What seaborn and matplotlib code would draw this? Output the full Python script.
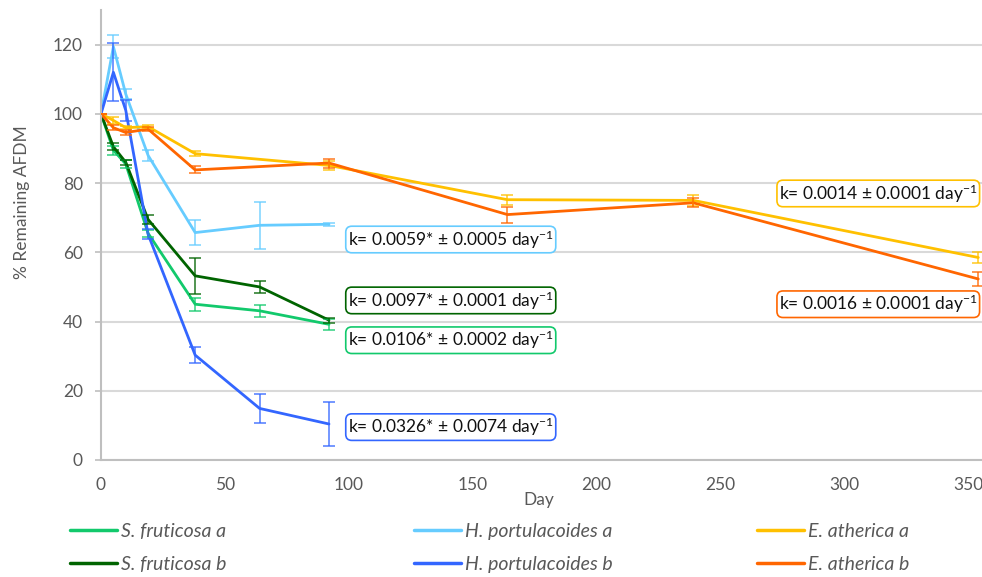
import numpy as np
import pandas as pd
import seaborn as sns
import matplotlib.pyplot as plt
from matplotlib.lines import Line2D

sns.set_theme(style="white")
plt.rcParams['font.family'] = ['Lato', 'DejaVu Sans']
plt.rcParams['mathtext.fontset'] = 'custom'
plt.rcParams['mathtext.rm'] = 'Lato'
plt.rcParams['mathtext.it'] = 'Lato:italic'

# Sampling days
days_short = [0, 5, 10, 19, 38, 64, 92]
days_long = [0, 5, 10, 19, 38, 92, 164, 239, 354]

# % remaining AFDM (mean) and standard error
sf_a = [100, 89.5, 85.5, 65.5, 45.0, 43.1, 39.2]
sf_a_err = [0, 1.3, 1.2, 1.0, 1.9, 1.7, 1.5]
sf_b = [100, 90.5, 86.0, 69.5, 53.2, 50.0, 40.4]
sf_b_err = [0, 1.0, 0.8, 1.4, 5.1, 1.8, 0.7]
hp_a = [100, 119.4, 105.7, 88.0, 65.7, 67.8, 68.1]
hp_a_err = [0, 3.3, 1.5, 1.5, 3.5, 6.7, 0.5]
hp_b = [100, 112.0, 101.0, 65.2, 30.3, 14.9, 10.4]
hp_b_err = [0, 8.4, 3.0, 1.5, 2.4, 4.1, 6.3]
ea_a = [100, 98.1, 96.0, 96.3, 88.5, 85.1, 75.2, 75.0, 58.5]
ea_a_err = [0, 1.0, 0.5, 0.5, 0.8, 1.2, 1.4, 1.5, 1.5]
ea_b = [100, 96.0, 94.6, 95.6, 83.8, 85.8, 70.9, 74.3, 52.3]
ea_b_err = [0, 0.8, 0.6, 0.6, 1.0, 1.3, 2.3, 1.3, 2.0]

names = ["S. fruticosa a", "S. fruticosa b", "H. portulacoides a",
         "H. portulacoides b", "E. atherica a", "E. atherica b"]
colors = ["#12C96C", "#006400", "#66CCFF", "#3366FF", "#FFC000", "#FF6600"]

# Decay rates
k_labels = ["k= 0.0106* ± 0.0002 day$^{-1}$", "k= 0.0097* ± 0.0001 day$^{-1}$",
            "k= 0.0059* ± 0.0005 day$^{-1}$", "k= 0.0326* ± 0.0074 day$^{-1}$",
            "k= 0.0014 ± 0.0001 day$^{-1}$", "k= 0.0016 ± 0.0001 day$^{-1}$"]
k_pos = [(99.6, 34.6), (99.6, 46.1), (99.6, 63.7), (99.6, 9.5),
         (273.6, 77.0), (273.6, 45.0)]

series = [(days_short, sf_a, sf_a_err), (days_short, sf_b, sf_b_err),
          (days_short, hp_a, hp_a_err), (days_short, hp_b, hp_b_err),
          (days_long, ea_a, ea_a_err), (days_long, ea_b, ea_b_err)]

df = pd.concat([pd.DataFrame({"Day": d, "AFDM": v, "Litter": n})
                for n, (d, v, e) in zip(names, series)], ignore_index=True)

fig = plt.figure(figsize=(9.82, 5.77), dpi=100)
ax = fig.add_axes([101 / 982, 117 / 577, 881 / 982, 450 / 577])

sns.lineplot(data=df, x="Day", y="AFDM", hue="Litter", hue_order=names,
             palette=dict(zip(names, colors)), linewidth=2.0, errorbar=None,
             legend=False, sort=False, ax=ax)

for (d, v, e), c in zip(series, colors):
    ax.errorbar(d, v, yerr=e, fmt="none", ecolor=c, elinewidth=1.2,
                capsize=4.3, capthick=1.2, alpha=0.8, zorder=3)

for (x, y), s, c in zip(k_pos, k_labels, colors):
    ax.text(x, y, s, ha="left", va="center", fontsize=12.5, color="#111111",
            bbox=dict(boxstyle="round,pad=0.12,rounding_size=0.35",
                      fc="white", ec=c, lw=1.2), zorder=5)

ax.set_xlim(0, 355.5)
ax.set_ylim(0, 130)
ax.set_xticks(range(0, 351, 50))
ax.set_yticks(range(0, 121, 20))
ax.yaxis.grid(True, color="#D9D9D9", lw=1.5)
ax.xaxis.grid(False)
for side in ["top", "right"]:
    ax.spines[side].set_visible(False)
for side in ["left", "bottom"]:
    ax.spines[side].set_color("#BFBFBF")
    ax.spines[side].set_linewidth(1.5)
ax.tick_params(axis="y", length=4, width=1.2, color="#BFBFBF", pad=9,
               labelsize=12.5, labelcolor="#595959", left=True)
ax.tick_params(axis="x", length=0, pad=12, labelsize=12.5, labelcolor="#595959")

ax.set_xlabel("Day", fontsize=12.5, color="#595959")
ax.set_ylabel("% Remaining AFDM", fontsize=12.5, color="#595959")
ax.xaxis.set_label_coords(0.497, -0.071)
ax.yaxis.set_label_coords(-0.081, 0.573)

handles = [Line2D([], [], color=c, lw=2.5) for c in colors]
col_x = [70 / 982, 414 / 982, 757 / 982]
for i, x in enumerate(col_x):
    fig.legend(handles=handles[2 * i:2 * i + 2], labels=names[2 * i:2 * i + 2],
               loc="upper left", bbox_to_anchor=(x, 1 - 523 / 577),
               frameon=False, borderpad=0, borderaxespad=0,
               handlelength=2.42, handletextpad=0.2, labelspacing=0.8,
               prop={"style": "italic", "size": 14}, labelcolor="#595959")

fig.savefig("out.png", dpi=100)
